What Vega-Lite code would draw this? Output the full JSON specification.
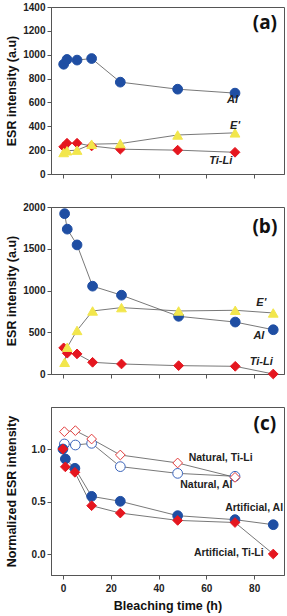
{
  "$schema": "https://vega.github.io/schema/vega-lite/v6.json",
  "padding": {"left": 4, "top": 1, "right": 4, "bottom": 4},
  "background": "white",
  "spacing": 33,
  "bounds": "flush",
  "config": {
    "view": {"stroke": "#555", "strokeWidth": 1},
    "axis": {
      "grid": false,
      "labelFont": "Liberation Sans",
      "labelFontWeight": "bold",
      "labelFontSize": 10,
      "labelColor": "#222",
      "labelOverlap": false,
      "labelFlush": false,
      "titleFont": "Liberation Sans",
      "titleFontWeight": "bold",
      "titleFontSize": 12.5,
      "titleColor": "#111",
      "tickColor": "#555",
      "domainColor": "#555",
      "tickSize": 4,
      "labelPadding": 2
    }
  },
  "datasets": {
    "a": [
      {"t": 0.3, "v": 920, "s": "Al"},
      {"t": 1.7, "v": 960, "s": "Al"},
      {"t": 5.9, "v": 955, "s": "Al"},
      {"t": 12, "v": 968, "s": "Al"},
      {"t": 24, "v": 770, "s": "Al"},
      {"t": 48, "v": 711, "s": "Al"},
      {"t": 72, "v": 678, "s": "Al"},
      {"t": 0.3, "v": 228, "s": "Ti-Li"},
      {"t": 1.7, "v": 258, "s": "Ti-Li"},
      {"t": 5.9, "v": 258, "s": "Ti-Li"},
      {"t": 12, "v": 235, "s": "Ti-Li"},
      {"t": 24, "v": 208, "s": "Ti-Li"},
      {"t": 48, "v": 200, "s": "Ti-Li"},
      {"t": 72, "v": 182, "s": "Ti-Li"},
      {"t": 0.3, "v": 180, "s": "E'"},
      {"t": 1.7, "v": 195, "s": "E'"},
      {"t": 5.9, "v": 200, "s": "E'"},
      {"t": 12, "v": 250, "s": "E'"},
      {"t": 24, "v": 255, "s": "E'"},
      {"t": 48, "v": 327, "s": "E'"},
      {"t": 72, "v": 345, "s": "E'"}
    ],
    "b": [
      {"t": 0.7, "v": 1920, "s": "Al"},
      {"t": 1.8, "v": 1735, "s": "Al"},
      {"t": 5.9, "v": 1546, "s": "Al"},
      {"t": 12.4, "v": 1052, "s": "Al"},
      {"t": 24.5, "v": 944, "s": "Al"},
      {"t": 48.4, "v": 691, "s": "Al"},
      {"t": 72.1, "v": 622, "s": "Al"},
      {"t": 88, "v": 530, "s": "Al"},
      {"t": 0.3, "v": 313, "s": "Ti-Li"},
      {"t": 1.8, "v": 249, "s": "Ti-Li"},
      {"t": 5.9, "v": 241, "s": "Ti-Li"},
      {"t": 12.4, "v": 140, "s": "Ti-Li"},
      {"t": 24.5, "v": 120, "s": "Ti-Li"},
      {"t": 48.4, "v": 100, "s": "Ti-Li"},
      {"t": 72.1, "v": 92, "s": "Ti-Li"},
      {"t": 88, "v": 0, "s": "Ti-Li"},
      {"t": 0.7, "v": 140, "s": "E'"},
      {"t": 1.8, "v": 321, "s": "E'"},
      {"t": 5.9, "v": 522, "s": "E'"},
      {"t": 12.4, "v": 755, "s": "E'"},
      {"t": 24.5, "v": 795, "s": "E'"},
      {"t": 48.4, "v": 755, "s": "E'"},
      {"t": 72.1, "v": 763, "s": "E'"},
      {"t": 88, "v": 731, "s": "E'"}
    ],
    "c": [
      {"t": 0.6, "v": 1.048, "s": "Natural, Al"},
      {"t": 5.2, "v": 1.038, "s": "Natural, Al"},
      {"t": 12, "v": 1.054, "s": "Natural, Al"},
      {"t": 24, "v": 0.832, "s": "Natural, Al"},
      {"t": 48, "v": 0.768, "s": "Natural, Al"},
      {"t": 72, "v": 0.74, "s": "Natural, Al"},
      {"t": 0.6, "v": 1.165, "s": "Natural, Ti-Li"},
      {"t": 5.2, "v": 1.175, "s": "Natural, Ti-Li"},
      {"t": 12, "v": 1.095, "s": "Natural, Ti-Li"},
      {"t": 24, "v": 0.943, "s": "Natural, Ti-Li"},
      {"t": 48, "v": 0.867, "s": "Natural, Ti-Li"},
      {"t": 72, "v": 0.73, "s": "Natural, Ti-Li"},
      {"t": 0, "v": 1.0, "s": "Artificial, Al"},
      {"t": 1, "v": 0.905, "s": "Artificial, Al"},
      {"t": 5, "v": 0.816, "s": "Artificial, Al"},
      {"t": 12, "v": 0.549, "s": "Artificial, Al"},
      {"t": 24, "v": 0.502, "s": "Artificial, Al"},
      {"t": 48, "v": 0.365, "s": "Artificial, Al"},
      {"t": 72, "v": 0.327, "s": "Artificial, Al"},
      {"t": 88, "v": 0.279, "s": "Artificial, Al"},
      {"t": 0, "v": 1.0, "s": "Artificial, Ti-Li"},
      {"t": 1, "v": 0.83, "s": "Artificial, Ti-Li"},
      {"t": 5, "v": 0.778, "s": "Artificial, Ti-Li"},
      {"t": 12, "v": 0.46, "s": "Artificial, Ti-Li"},
      {"t": 24, "v": 0.39, "s": "Artificial, Ti-Li"},
      {"t": 48, "v": 0.32, "s": "Artificial, Ti-Li"},
      {"t": 72, "v": 0.30, "s": "Artificial, Ti-Li"},
      {"t": 88, "v": 0.0, "s": "Artificial, Ti-Li"}
    ]
  },
  "vconcat": [
    {
      "width": 233,
      "height": 167,
      "data": {"name": "a"},
      "encoding": {
        "x": {"field": "t", "type": "quantitative", "scale": {"domain": [-5, 92.5], "nice": false, "zero": false}, "axis": {"values": [0, 20, 40, 60, 80], "labels": false, "title": null}},
        "y": {"field": "v", "type": "quantitative", "scale": {"domain": [0, 1400], "nice": false}, "axis": {"values": [0, 200, 400, 600, 800, 1000, 1200, 1400], "format": "d", "title": "ESR intensity (a.u)", "minExtent": 29, "maxExtent": 29, "titlePadding": 4}}
      },
      "layer": [
        {
          "mark": {"type": "line", "color": "#555", "strokeWidth": 0.8},
          "encoding": {"detail": {"field": "s"}}
        },
        {
          "mark": {"type": "point", "filled": true, "size": 95, "strokeWidth": 1, "opacity": 1},
          "encoding": {
            "shape": {"field": "s", "scale": {"domain": ["Al", "E'", "Ti-Li", "Natural, Al", "Natural, Ti-Li", "Artificial, Al", "Artificial, Ti-Li"], "range": ["circle", "triangle-up", "diamond", "circle", "diamond", "circle", "diamond"]}, "legend": null},
            "fill": {"field": "s", "scale": {"domain": ["Al", "E'", "Ti-Li", "Natural, Al", "Natural, Ti-Li", "Artificial, Al", "Artificial, Ti-Li"], "range": ["#1f4ea3", "#f2e64c", "#e5161f", "#ffffff", "#ffffff", "#1f4ea3", "#e5161f"]}, "legend": null},
            "stroke": {"field": "s", "scale": {"domain": ["Al", "E'", "Ti-Li", "Natural, Al", "Natural, Ti-Li", "Artificial, Al", "Artificial, Ti-Li"], "range": ["#1f4ea3", "#f2e64c", "#e5161f", "#3a64bb", "#e23a3a", "#1f4ea3", "#e5161f"]}, "legend": null}
          }
        },
        {
          "data": {"values": [
            {"t": 71, "v": 620, "label": "Al"},
            {"t": 72, "v": 402, "label": "E'"},
            {"t": 66, "v": 109, "label": "Ti-Li"}
          ]},
          "mark": {"type": "text", "font": "Liberation Sans", "fontWeight": "bold", "fontStyle": "italic", "fontSize": 11, "color": "#222"},
          "encoding": {"text": {"field": "label"}}
        },
        {
          "data": {"values": [{"t": 84.5, "v": 1266, "label": "(a)"}]},
          "mark": {"type": "text", "font": "Open Sans", "fontWeight": "bold", "fontSize": 19, "color": "#111"},
          "encoding": {"text": {"field": "label"}}
        }
      ]
    },
    {
      "width": 233,
      "height": 167,
      "data": {"name": "b"},
      "encoding": {
        "x": {"field": "t", "type": "quantitative", "scale": {"domain": [-5, 92.5], "nice": false, "zero": false}, "axis": {"values": [0, 20, 40, 60, 80], "labels": false, "title": null}},
        "y": {"field": "v", "type": "quantitative", "scale": {"domain": [0, 2000], "nice": false}, "axis": {"values": [0, 500, 1000, 1500, 2000], "format": "d", "title": "ESR intensity (a.u)", "minExtent": 29, "maxExtent": 29, "titlePadding": 4}}
      },
      "layer": [
        {
          "mark": {"type": "line", "color": "#555", "strokeWidth": 0.8},
          "encoding": {"detail": {"field": "s"}}
        },
        {
          "mark": {"type": "point", "filled": true, "size": 95, "strokeWidth": 1, "opacity": 1, "clip": false},
          "encoding": {
            "shape": {"field": "s", "scale": {"domain": ["Al", "E'", "Ti-Li", "Natural, Al", "Natural, Ti-Li", "Artificial, Al", "Artificial, Ti-Li"], "range": ["circle", "triangle-up", "diamond", "circle", "diamond", "circle", "diamond"]}, "legend": null},
            "fill": {"field": "s", "scale": {"domain": ["Al", "E'", "Ti-Li", "Natural, Al", "Natural, Ti-Li", "Artificial, Al", "Artificial, Ti-Li"], "range": ["#1f4ea3", "#f2e64c", "#e5161f", "#ffffff", "#ffffff", "#1f4ea3", "#e5161f"]}, "legend": null},
            "stroke": {"field": "s", "scale": {"domain": ["Al", "E'", "Ti-Li", "Natural, Al", "Natural, Ti-Li", "Artificial, Al", "Artificial, Ti-Li"], "range": ["#1f4ea3", "#f2e64c", "#e5161f", "#3a64bb", "#e23a3a", "#1f4ea3", "#e5161f"]}, "legend": null}
          }
        },
        {
          "data": {"values": [
            {"t": 83, "v": 854, "label": "E'"},
            {"t": 82, "v": 455, "label": "Al"},
            {"t": 83, "v": 140, "label": "Ti-Li"}
          ]},
          "mark": {"type": "text", "font": "Liberation Sans", "fontWeight": "bold", "fontStyle": "italic", "fontSize": 11, "color": "#222"},
          "encoding": {"text": {"field": "label"}}
        },
        {
          "data": {"values": [{"t": 84.5, "v": 1760, "label": "(b)"}]},
          "mark": {"type": "text", "font": "Open Sans", "fontWeight": "bold", "fontSize": 19, "color": "#111"},
          "encoding": {"text": {"field": "label"}}
        }
      ]
    },
    {
      "width": 233,
      "height": 168,
      "data": {"name": "c"},
      "encoding": {
        "x": {"field": "t", "type": "quantitative", "scale": {"domain": [-5, 92.5], "nice": false, "zero": false}, "axis": {"values": [0, 20, 40, 60, 80], "title": "Bleaching time (h)", "titlePadding": 6, "labelPadding": 4}},
        "y": {"field": "v", "type": "quantitative", "scale": {"domain": [-0.2, 1.4], "nice": false, "zero": false}, "axis": {"values": [0, 0.5, 1.0], "format": ".1f", "title": "Normalized ESR intensity", "minExtent": 29, "maxExtent": 29, "titlePadding": 4}}
      },
      "layer": [
        {
          "mark": {"type": "line", "color": "#555", "strokeWidth": 0.8},
          "encoding": {"detail": {"field": "s"}}
        },
        {
          "mark": {"type": "point", "filled": true, "size": 95, "strokeWidth": 1, "opacity": 1},
          "encoding": {
            "shape": {"field": "s", "scale": {"domain": ["Al", "E'", "Ti-Li", "Natural, Al", "Natural, Ti-Li", "Artificial, Al", "Artificial, Ti-Li"], "range": ["circle", "triangle-up", "diamond", "circle", "diamond", "circle", "diamond"]}, "legend": null},
            "fill": {"field": "s", "scale": {"domain": ["Al", "E'", "Ti-Li", "Natural, Al", "Natural, Ti-Li", "Artificial, Al", "Artificial, Ti-Li"], "range": ["#1f4ea3", "#f2e64c", "#e5161f", "#ffffff", "#ffffff", "#1f4ea3", "#e5161f"]}, "legend": null},
            "stroke": {"field": "s", "scale": {"domain": ["Al", "E'", "Ti-Li", "Natural, Al", "Natural, Ti-Li", "Artificial, Al", "Artificial, Ti-Li"], "range": ["#1f4ea3", "#f2e64c", "#e5161f", "#3a64bb", "#e23a3a", "#1f4ea3", "#e5161f"]}, "legend": null}
          }
        },
        {
          "data": {"values": [
            {"t": 66, "v": 0.919, "label": "Natural, Ti-Li"},
            {"t": 60, "v": 0.659, "label": "Natural, Al"},
            {"t": 80, "v": 0.436, "label": "Artificial, Al"},
            {"t": 69.4, "v": 0.008, "label": "Artificial, Ti-Li"}
          ]},
          "mark": {"type": "text", "font": "Liberation Sans", "fontWeight": "bold", "fontSize": 10.5, "color": "#222"},
          "encoding": {"text": {"field": "label"}}
        },
        {
          "data": {"values": [{"t": 84.5, "v": 1.238, "label": "(c)"}]},
          "mark": {"type": "text", "font": "Open Sans", "fontWeight": "bold", "fontSize": 19, "color": "#111"},
          "encoding": {"text": {"field": "label"}}
        }
      ]
    }
  ]
}
